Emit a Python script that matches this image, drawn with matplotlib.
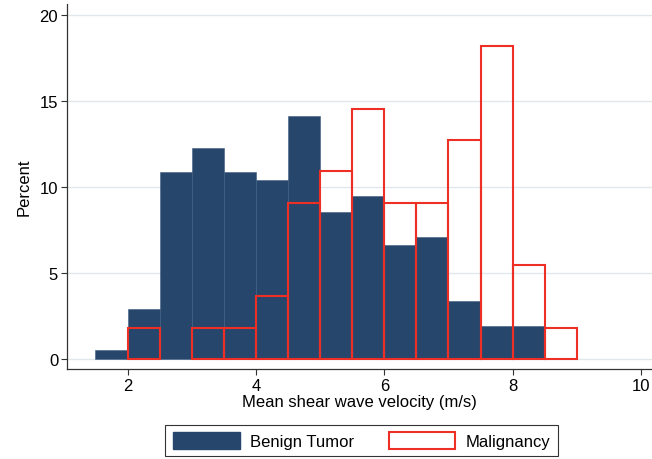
import matplotlib
matplotlib.use('Agg')
import matplotlib.pyplot as plt
import numpy as np
from matplotlib.patches import Patch

plt.rcParams['font.family'] = ['Liberation Sans', 'DejaVu Sans']

# bin edges (m/s) and percents
bin_left = [1.5, 2.0, 2.5, 3.0, 3.5, 4.0, 4.5, 5.0, 5.5, 6.0, 6.5, 7.0, 7.5, 8.0, 8.5]
benign = [0.54, 2.9, 10.85, 12.27, 10.85, 10.39, 14.13, 8.53, 9.46, 6.65, 7.11, 3.35, 1.94, 1.94, 0.0]
malignant = [0.0, 1.82, 0.0, 1.82, 1.82, 3.64, 9.09, 10.91, 14.55, 9.09, 9.09, 12.73, 18.18, 5.45, 1.82]
bin_w = 0.5
xticks = [2, 4, 6, 8, 10]
yticks = [0, 5, 10, 15, 20]

navy = '#27466c'
red = '#ee2f25'

fig = plt.figure(figsize=(6.52, 4.6), dpi=100)
ax = fig.add_axes([0.103, 0.196, 0.897, 0.793])

ax.bar(bin_left, benign, width=bin_w, align='edge', color=navy,
       edgecolor='#3f5c80', linewidth=0.4, zorder=2)
mal_x = [x for x, v in zip(bin_left, malignant) if v > 0]
mal_v = [v for v in malignant if v > 0]
ax.bar(mal_x, mal_v, width=bin_w, align='edge', facecolor='none',
       edgecolor=red, linewidth=1.5, zorder=3)

ax.set_xlim(1.06, 10.17)
ax.set_ylim(-0.58, 20.64)
ax.set_xticks(xticks)
ax.set_yticks(yticks)
ax.yaxis.grid(True, color='#e1e8ec', linewidth=1.0, zorder=0)
ax.set_axisbelow(True)
for s in ['top', 'right']:
    ax.spines[s].set_visible(False)
for s in ['left', 'bottom']:
    ax.spines[s].set_color('#333333')
    ax.spines[s].set_linewidth(0.9)
ax.tick_params(direction='out', length=4.5, width=0.8, labelsize=12, color='#333333', pad=2)

ax.set_xlabel('Mean shear wave velocity (m/s)', fontsize=12, labelpad=1)
ax.set_ylabel('Percent', fontsize=12, labelpad=6)

handles = [Patch(facecolor=navy, edgecolor=navy, label='Benign Tumor'),
           Patch(facecolor='white', edgecolor=red, linewidth=1.5, label='Malignancy')]
leg = fig.legend(handles=handles, loc='center', bbox_to_anchor=(0.5545, 0.0402),
                 ncol=2, fontsize=12, frameon=True, fancybox=False,
                 handlelength=4.0, handleheight=1.15, columnspacing=2.1,
                 handletextpad=0.6, borderpad=0.45, borderaxespad=0)
leg.get_frame().set_edgecolor('black')
leg.get_frame().set_linewidth(0.8)

plt.savefig('out.png', dpi=100)
